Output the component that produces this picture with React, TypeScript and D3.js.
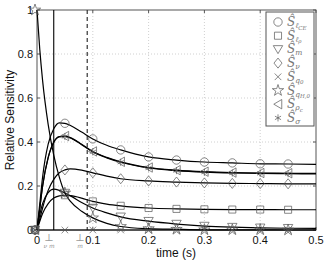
import React from 'react';
import * as d3 from "d3";

const times = [0, 0.005, 0.01, 0.02, 0.03, 0.04, 0.05, 0.06, 0.08, 0.1, 0.125, 0.15, 0.2, 0.25, 0.3, 0.35, 0.4, 0.45, 0.5];
const markerTimes = [0, 0.05, 0.1, 0.15, 0.2, 0.25, 0.3, 0.35, 0.4, 0.45];

const sLce = [0, 0.12, 0.24, 0.39, 0.46, 0.487, 0.485, 0.475, 0.445, 0.414, 0.385, 0.364, 0.332, 0.318, 0.309, 0.305, 0.301, 0.3, 0.298];
const sLrho = [0, 0.04, 0.075, 0.12, 0.145, 0.155, 0.158, 0.156, 0.145, 0.13, 0.118, 0.11, 0.1, 0.096, 0.094, 0.093, 0.093, 0.092, 0.092];
const sM = [0, 0.07, 0.12, 0.17, 0.186, 0.18, 0.168, 0.155, 0.125, 0.1, 0.078, 0.06, 0.04, 0.027, 0.018, 0.013, 0.01, 0.008, 0.007];
const sNu = [0, 0.05, 0.1, 0.18, 0.23, 0.26, 0.273, 0.278, 0.272, 0.26, 0.245, 0.233, 0.223, 0.218, 0.214, 0.212, 0.211, 0.21, 0.21];
const sQ0 = [0, 0, 0, 0, 0, 0, 0, 0, 0, 0, 0, 0, 0, 0, 0, 0, 0, 0, 0];
const sQH0 = [1, 0.82, 0.68, 0.48, 0.34, 0.24, 0.168, 0.13, 0.085, 0.055, 0.03, 0.016, 0.006, 0.003, 0.001, 0.001, 0.001, 0, 0];
const sRhoC = [0, 0.1, 0.2, 0.33, 0.4, 0.425, 0.427, 0.42, 0.39, 0.357, 0.33, 0.31, 0.284, 0.272, 0.265, 0.261, 0.259, 0.258, 0.257];
const sSigma = [0, 0.099, 0.199, 0.328, 0.398, 0.423, 0.425, 0.418, 0.388, 0.355, 0.328, 0.308, 0.282, 0.27, 0.263, 0.259, 0.257, 0.256, 0.255];

const xTicks = [0, 0.1, 0.2, 0.3, 0.4, 0.5];
const yTicks = [0, 0.2, 0.4, 0.6, 0.8, 1];
const eventTimes = [0.03, 0.09];

const diamond = {
    draw(ctx, size) {
        const h = Math.sqrt(size) * 0.75, w = h * 0.8;
        ctx.moveTo(0, -h); ctx.lineTo(w, 0); ctx.lineTo(0, h); ctx.lineTo(-w, 0); ctx.closePath();
    }
};
const triDown = {
    draw(ctx, size) {
        const r = Math.sqrt(size) * 0.7;
        ctx.moveTo(-r, -r * 0.8); ctx.lineTo(r, -r * 0.8); ctx.lineTo(0, r * 0.9); ctx.closePath();
    }
};
const triLeft = {
    draw(ctx, size) {
        const r = Math.sqrt(size) * 0.7;
        ctx.moveTo(-r * 0.9, 0); ctx.lineTo(r * 0.8, -r); ctx.lineTo(r * 0.8, r); ctx.closePath();
    }
};

const series = [
    { name: "ℓ", sub2: "CE", data: sLce, sym: d3.symbolCircle, size: 55 },
    { name: "ℓ", sub2: "ρ", data: sLrho, sym: d3.symbolSquare, size: 50 },
    { name: "m", sub2: "", data: sM, sym: triDown, size: 45 },
    { name: "ν", sub2: "", data: sNu, sym: diamond, size: 45 },
    { name: "q", sub2: "0", data: sQ0, sym: d3.symbolTimes, size: 30 },
    { name: "q", sub2: "H,0", data: sQH0, sym: d3.symbolStar, size: 40 },
    { name: "ρ", sub2: "c", data: sRhoC, sym: triLeft, size: 45 },
    { name: "σ", sub2: "", data: sSigma, sym: d3.symbolAsterisk, size: 35 },
];

export default function App() {
    const x = d3.scaleLinear().domain([0, 0.5]).range([37, 316]);
    const y = d3.scaleLinear().domain([0, 1]).range([230, 10]);
    const line = d3.line().x((d, i) => x(times[i])).y(d => y(d)).curve(d3.curveMonotoneX);
    const font = "'Liberation Sans', Arial, sans-serif";

    return (
        <svg width={327} height={261} style={{ position: "absolute", left: 0, top: 0, background: "white" }} fontFamily={font}>
            {xTicks.slice(1, -1).map(t =>
                <line key={"gx" + t} x1={x(t)} x2={x(t)} y1={y(1)} y2={y(0)} stroke="#c4c4c4" strokeWidth={0.8} strokeDasharray="1,2" />)}
            {yTicks.slice(1, -1).map(t =>
                <line key={"gy" + t} x1={x(0)} x2={x(0.5)} y1={y(t)} y2={y(t)} stroke="#c4c4c4" strokeWidth={0.8} strokeDasharray="1,2" />)}
            <rect x={x(0)} y={y(1)} width={x(0.5) - x(0)} height={y(0) - y(1)} fill="none" stroke="#555" strokeWidth={1} />
            {xTicks.map(t =>
                <g key={"tx" + t}>
                    <line x1={x(t)} x2={x(t)} y1={y(0)} y2={y(0) - 3} stroke="#555" />
                    <line x1={x(t)} x2={x(t)} y1={y(1)} y2={y(1) + 3} stroke="#555" />
                    <text x={x(t)} y={244} fontSize={11} textAnchor="middle" fill="#111">{t}</text>
                </g>)}
            {yTicks.map(t =>
                <g key={"ty" + t}>
                    <line x1={x(0)} x2={x(0) + 3} y1={y(t)} y2={y(t)} stroke="#555" />
                    <line x1={x(0.5)} x2={x(0.5) - 3} y1={y(t)} y2={y(t)} stroke="#555" />
                    <text x={33} y={y(t) + 4} fontSize={11} textAnchor="end" fill="#111">{t}</text>
                </g>)}
            <line x1={x(eventTimes[0])} x2={x(eventTimes[0])} y1={y(1)} y2={y(0)} stroke="#000" strokeWidth={1.1} />
            <line x1={x(eventTimes[1])} x2={x(eventTimes[1])} y1={y(1)} y2={y(0)} stroke="#333" strokeWidth={1.2} strokeDasharray="4,3" />
            <g fill="#999" fontFamily="'DejaVu Serif', serif">
                <text x={49} y={241} fontSize={10} textAnchor="middle">⊥</text>
                <text x={49} y={248} fontSize={6} fontStyle="italic" textAnchor="middle">ν m</text>
                <text x={80} y={241} fontSize={10} textAnchor="middle">⊥</text>
                <text x={80} y={248} fontSize={6} fontStyle="italic" textAnchor="middle">m</text>
            </g>
            {series.map(s =>
                <path key={"l" + s.name + s.sub2} d={line(s.data)} fill="none" stroke="#000" strokeWidth={1.2} />)}
            {series.map(s =>
                markerTimes.map(t => {
                    const v = s.data[times.indexOf(t)];
                    return <path key={"m" + s.name + s.sub2 + t} d={d3.symbol(s.sym, s.size)()}
                        transform={`translate(${x(t) - (t === 0 ? 2 : 0)},${y(v)})`} fill="none" stroke="#555" strokeWidth={0.7} />;
                }))}
            <text transform="translate(14,120) rotate(-90)" fontSize={12} textAnchor="middle" fill="#111">Relative Sensitivity</text>
            <text x={176} y={257} fontSize={12} textAnchor="middle" fill="#111">time (s)</text>
            <rect x={266} y={12} width={48} height={114} fill="white" stroke="#555" strokeWidth={1} />
            {series.map((s, i) => {
                const ly = 22 + i * 13.7;
                return <g key={"lg" + i}>
                    <path d={d3.symbol(s.sym, s.size)()} transform={`translate(278,${ly})`} fill="none" stroke="#555" strokeWidth={0.7} />
                    <text x={287} y={ly + 4} fontFamily="'DejaVu Serif', serif" fontStyle="italic" fill="#777">
                        <tspan fontSize={12}>Ŝ</tspan>
                        <tspan fontSize={7.5} dy={2}>{s.name}</tspan>
                        {s.sub2 && <tspan fontSize={5.5} dy={1.5}>{s.sub2}</tspan>}
                    </text>
                </g>;
            })}
        </svg>
    );
}
